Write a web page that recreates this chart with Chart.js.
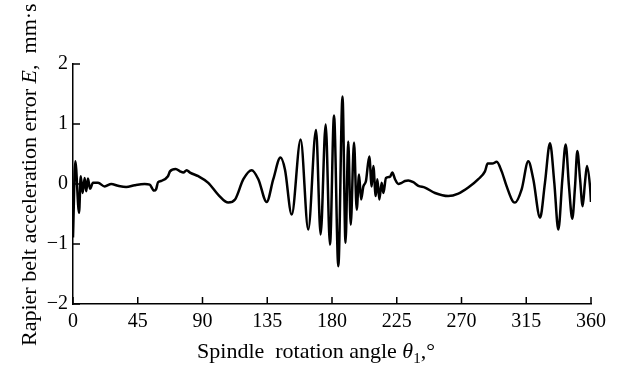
<!DOCTYPE html>
<html>
<head>
<meta charset="utf-8">
<script src="https://cdn.jsdelivr.net/npm/chart.js@4/dist/chart.umd.min.js"></script>
<style>
  html, body { margin: 0; padding: 0; background: #fff; }
  #wrap { width: 624px; height: 365px; }
</style>
</head>
<body>
<div id="wrap"><canvas id="errChart" width="624" height="365"></canvas></div>
<script>
// spindle angle (deg) and acceleration error
const angle = [0, 1.6, 4.2, 5.4, 6.7, 8.1, 9.2, 10.4, 11.8, 13.9, 17.4, 22.0, 26.6, 31.3, 37.0, 42.9, 49.8, 53.3, 56.3, 57.7, 59.1, 61.2, 66.0, 67.4, 71.4, 74.4, 76.7, 79.0, 81.3, 87.1, 94.0, 101.0, 107.9, 112.6, 118.4, 124.2, 128.8, 134.6, 139.2, 144.2, 147.3, 152.0, 158.2, 163.5, 168.9, 172.1, 175.6, 178.6, 181.4, 184.4, 187.3, 189.4, 191.3, 193.0, 195.3, 197.2, 198.8, 200.2, 201.8, 203.6, 205.9, 207.6, 208.7, 210.4, 211.5, 212.9, 214.5, 215.7, 217.5, 220.3, 221.9, 223.8, 226.1, 228.4, 230.7, 233.0, 236.5, 240.0, 244.6, 251.6, 260.8, 267.8, 274.7, 281.7, 286.3, 288.2, 291.4, 294.5, 297.9, 301.4, 306.0, 307.2, 311.8, 316.4, 319.9, 324.6, 328.0, 331.5, 334.5, 337.3, 340.1, 342.4, 344.7, 347.0, 348.9, 350.5, 352.4, 354.2, 355.8, 357.2, 359.3, 360.0];
const accErr = [-0.89, 0.38, -0.48, 0.13, -0.15, 0.10, -0.12, 0.09, -0.08, 0.02, 0.02, -0.04, 0.0, -0.03, -0.05, -0.02, 0.0, -0.01, -0.11, -0.09, 0.03, 0.05, 0.13, 0.21, 0.25, 0.21, 0.19, 0.23, 0.19, 0.13, 0.02, -0.18, -0.31, -0.26, 0.08, 0.23, 0.08, -0.30, 0.08, 0.44, 0.24, -0.51, 0.74, -0.76, 0.90, -0.84, 0.99, -1.01, 1.14, -1.37, 1.46, -0.98, 0.71, -0.68, 0.69, -0.43, 0.16, -0.26, -0.04, 0.05, 0.46, -0.04, 0.30, -0.20, 0.08, -0.26, 0.02, -0.15, 0.10, 0.12, 0.19, 0.08, 0.0, 0.02, 0.05, 0.06, 0.03, -0.03, -0.06, -0.15, -0.20, -0.16, -0.06, 0.08, 0.21, 0.34, 0.34, 0.37, 0.21, -0.04, -0.30, -0.31, -0.09, 0.38, 0.08, -0.56, 0.02, 0.68, 0.02, -0.76, 0.08, 0.66, -0.04, -0.58, -0.04, 0.55, 0.08, -0.37, 0.02, 0.30, -0.04, -0.30];

const xTicks = [0, 45, 90, 135, 180, 225, 270, 315, 360];
const yTicks = [-2, -1, 0, 1, 2];

const serif = "'Liberation Serif', 'DejaVu Serif', serif";

// ticks pointing into the plot + axis titles
const decor = {
  id: 'decor',
  afterDraw(chart) {
    const ctx = chart.ctx;
    const xs = chart.scales.x, ys = chart.scales.y;
    const a = chart.chartArea;
    ctx.save();
    ctx.strokeStyle = '#000';
    ctx.lineWidth = 1.5;
    ctx.beginPath();
    xTicks.forEach(v => {
      const px = xs.getPixelForValue(v);
      ctx.moveTo(px, a.bottom);
      ctx.lineTo(px, a.bottom - 7);
    });
    yTicks.forEach(v => {
      const py = ys.getPixelForValue(v);
      ctx.moveTo(a.left, py);
      ctx.lineTo(a.left + 7, py);
    });
    ctx.stroke();

    ctx.fillStyle = '#000';
    ctx.textBaseline = 'alphabetic';

    // x title
    const parts = [
      ['Spindle  rotation angle ', '22px ' + serif, 0],
      ['\u03b8', 'italic 22px ' + serif, 0],
      ['1', '15px ' + serif, 5],
      [',\u00b0', '22px ' + serif, 0]
    ];
    let total = 0;
    parts.forEach(p => { ctx.font = p[1]; total += ctx.measureText(p[0]).width; });
    let x = 316 - total / 2;
    ctx.textAlign = 'left';
    parts.forEach(p => {
      ctx.font = p[1];
      ctx.fillText(p[0], x, 358 + p[2]);
      x += ctx.measureText(p[0]).width;
    });

    // y title, rotated
    ctx.translate(36, 346);
    ctx.rotate(-Math.PI / 2);
    const yparts = [
      ['Rapier belt acceleration error ', '22px ' + serif],
      ['E', 'italic 22px ' + serif],
      [',  mm\u00b7s', '22px ' + serif]
    ];
    let yx = 0;
    yparts.forEach(p => {
      ctx.font = p[1];
      ctx.fillText(p[0], yx, 0);
      yx += ctx.measureText(p[0]).width;
    });
    ctx.restore();
  }
};

new Chart(document.getElementById('errChart'), {
  type: 'line',
  data: {
    datasets: [{
      data: angle.map((v, i) => ({ x: v, y: accErr[i] })),
      borderColor: '#000',
      borderWidth: 2.5,
      pointRadius: 0,
      fill: false,
      cubicInterpolationMode: 'monotone'
    }]
  },
  options: {
    responsive: false,
    animation: false,
    layout: { padding: { top: 64, right: 33, left: 0, bottom: 0 } },
    plugins: { legend: { display: false }, tooltip: { enabled: false } },
    scales: {
      x: {
        type: 'linear', min: 0, max: 360,
        afterBuildTicks: s => { s.ticks = xTicks.map(v => ({ value: v })); },
        afterFit: s => { s.height = 61; },
        grid: { display: false, drawTicks: false },
        border: { display: true, color: '#000', width: 1.5 },
        ticks: { color: '#000', font: { family: serif, size: 20 }, padding: 6, maxRotation: 0 }
      },
      y: {
        min: -2, max: 2,
        afterBuildTicks: s => { s.ticks = yTicks.map(v => ({ value: v })); },
        afterFit: s => { s.width = 73; },
        grid: { display: false, drawTicks: false },
        border: { display: true, color: '#000', width: 1.5 },
        ticks: {
          color: '#000', font: { family: serif, size: 20 }, padding: 5,
          callback: v => (v < 0 ? '\u2212' + Math.abs(v) : String(v))
        }
      }
    }
  },
  plugins: [decor]
});
</script>
</body>
</html>
